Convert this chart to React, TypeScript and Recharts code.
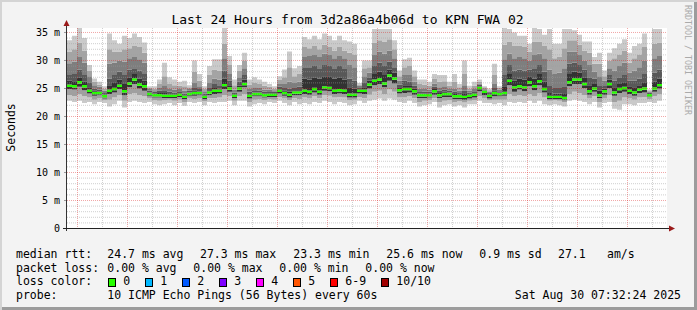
import React from 'react';
import { ComposedChart, Bar, XAxis, YAxis } from 'recharts';

const FONT = '"DejaVu Sans Mono", "Liberation Mono", monospace';

// plot frame (pixels) shared by the chart and the grid overlay
const PLOT_LEFT = 67;
const PLOT_TOP = 28;
const PLOT_W = 600;
const PLOT_H = 200.5;
const Y_MAX = 35.8;

// time axis, minutes after Fri 00:00
const START_MIN = 454.8;
const SPAN_MIN = 1440;
const STEP_COUNT = 120; // 12-minute RRD steps across 24 h

const timeTicks = [480, 720, 960, 1200, 1440, 1680];
const timeTickLabels = ['Fri 08:00', 'Fri 12:00', 'Fri 16:00', 'Fri 20:00', 'Sat 00:00', 'Sat 04:00'];
const majorHourLines = [480, 600, 720, 840, 960, 1080, 1200, 1320, 1440, 1560, 1680, 1800];
const minorHourLines = [540, 660, 780, 900, 1020, 1140, 1260, 1380, 1500, 1620, 1740, 1860];

const yTicks = [0, 5, 10, 15, 20, 25, 30, 35];
const yTickLabels = ['0', '5 m', '10 m', '15 m', '20 m', '25 m', '30 m', '35 m'];
const majorY = [5, 10, 15, 20, 25, 30, 35];
const minorY = [1, 2, 3, 4, 6, 7, 8, 9, 11, 12, 13, 14, 16, 17, 18, 19, 21, 22, 23, 24, 26, 27, 28, 29, 31, 32, 33, 34];

// smoke boundaries (ms), one value per 12-minute step
const lo1 = [
  22.8, 22.6, 22.8, 22.4, 22.6, 22.2, 22.6, 22.4, 21.8, 22.2,
  22.8, 21.6, 22.6, 22.8, 22.6, 22.4, 22.6, 22.2, 22.0, 22.2,
  22.4, 22.0, 22.4, 21.9, 22.6, 22.4, 22.6, 22.0, 22.6, 22.4,
  22.6, 22.6, 22.8, 22.0, 22.8, 22.8, 21.8, 22.2, 22.4, 22.2,
  22.6, 22.4, 22.8, 22.4, 22.0, 22.6, 22.2, 22.4, 22.2, 22.6,
  22.4, 22.8, 22.6, 22.2, 22.6, 22.4, 22.0, 22.2, 22.8, 22.4,
  22.8, 23.0, 23.2, 22.8, 23.2, 23.0, 22.6, 22.4, 22.8, 22.4,
  21.8, 22.0, 22.2, 22.6, 21.6, 22.0, 22.2, 21.8, 22.0, 21.6,
  22.2, 22.2, 22.8, 22.4, 22.4, 22.2, 22.4, 22.0, 22.6, 22.4,
  22.6, 22.4, 22.8, 22.4, 22.8, 22.2, 22.0, 22.2, 22.0, 21.8,
  22.8, 23.0, 22.8, 22.6, 22.2, 22.6, 21.6, 22.4, 22.6, 21.4,
  21.2, 22.2, 22.2, 22.0, 22.4, 22.4, 22.6, 22.4, 22.8,
];
const lo2 = [
  23.8, 23.6, 24.0, 23.6, 23.4, 23.0, 23.2, 22.9, 23.0, 23.4,
  23.8, 22.8, 24.0, 24.2, 23.8, 23.6, 23.2, 22.9, 22.8, 22.9,
  23.0, 22.8, 23.0, 22.6, 23.2, 23.1, 23.2, 22.7, 23.3, 23.3,
  23.4, 23.8, 23.6, 22.8, 23.6, 24.0, 22.6, 23.0, 23.1, 22.9,
  23.1, 23.0, 23.5, 23.2, 22.9, 23.3, 23.1, 23.4, 23.2, 23.6,
  23.3, 23.8, 23.7, 23.4, 23.5, 23.4, 22.9, 23.0, 23.5, 23.3,
  23.9, 24.4, 24.6, 24.0, 24.8, 24.4, 23.4, 23.4, 23.6, 23.3,
  22.6, 22.8, 22.9, 23.3, 22.6, 22.8, 22.9, 22.6, 22.7, 22.5,
  22.8, 22.9, 23.6, 23.2, 22.9, 23.0, 23.0, 23.0, 24.0, 23.6,
  23.8, 23.6, 24.0, 23.6, 24.2, 23.4, 22.8, 22.9, 22.8, 22.6,
  24.0, 24.4, 24.2, 23.8, 23.2, 23.6, 22.6, 23.2, 23.8, 22.6,
  22.8, 23.4, 23.2, 23.0, 23.4, 23.5, 23.1, 23.6, 24.0,
];
const lo3 = [
  24.9, 24.8, 25.3, 24.7, 24.1, 23.7, 23.8, 23.2, 24.0, 24.3,
  24.9, 23.8, 25.2, 25.8, 25.0, 24.6, 23.6, 23.4, 23.4, 23.3,
  23.3, 23.3, 23.5, 23.1, 23.6, 23.7, 23.8, 23.1, 23.8, 24.0,
  24.1, 24.9, 24.4, 23.3, 24.4, 25.2, 23.2, 23.6, 23.6, 23.4,
  23.5, 23.5, 24.1, 23.7, 23.4, 23.8, 23.8, 24.0, 23.9, 24.3,
  23.9, 24.6, 24.5, 24.0, 24.1, 24.0, 23.4, 23.4, 24.1, 24.0,
  25.0, 25.6, 25.8, 25.2, 26.4, 25.9, 24.1, 24.2, 24.3, 23.9,
  23.3, 23.3, 23.4, 23.9, 23.3, 23.5, 23.5, 23.1, 23.1, 23.0,
  23.2, 23.4, 24.5, 23.8, 23.2, 23.6, 23.6, 23.7, 25.6, 24.4,
  24.8, 24.5, 25.4, 24.7, 25.6, 24.3, 23.1, 23.1, 23.1, 22.9,
  25.4, 25.8, 25.8, 25.1, 23.9, 24.4, 23.3, 23.9, 25.1, 23.7,
  24.2, 24.4, 24.0, 23.7, 24.2, 24.3, 23.5, 24.4, 25.0,
];
// median rtt (ms)
const median = [
  25.5, 25.4, 26.1, 25.4, 24.6, 24.2, 24.2, 23.6, 24.6, 24.9,
  25.5, 24.5, 25.9, 26.6, 25.7, 25.4, 24.0, 23.8, 23.8, 23.7,
  23.7, 23.7, 23.9, 23.5, 24.0, 24.2, 24.2, 23.5, 24.3, 24.6,
  24.6, 25.6, 25.0, 23.7, 25.0, 25.8, 23.7, 24.0, 24.0, 23.8,
  23.9, 23.9, 24.6, 24.2, 23.9, 24.3, 24.3, 24.6, 24.4, 24.9,
  24.4, 25.2, 25.1, 24.6, 24.7, 24.6, 23.9, 23.9, 24.6, 24.6,
  25.7, 26.4, 26.6, 25.9, 27.3, 26.8, 24.7, 24.9, 24.9, 24.5,
  23.8, 23.8, 23.8, 24.5, 23.8, 24.0, 24.0, 23.6, 23.6, 23.5,
  23.7, 23.9, 25.1, 24.4, 23.7, 24.2, 24.0, 24.2, 26.4, 25.2,
  25.4, 25.2, 26.1, 25.4, 26.3, 24.9, 23.5, 23.5, 23.5, 23.3,
  26.1, 26.6, 26.6, 25.8, 24.5, 25.0, 23.8, 24.5, 25.8, 24.3,
  24.9, 25.1, 24.6, 24.3, 24.8, 25.0, 23.8, 25.0, 25.6,
];
const hi1 = [
  26.4, 26.3, 27.0, 26.2, 25.2, 24.6, 24.5, 23.9, 25.6, 26.0,
  26.6, 25.8, 27.0, 27.6, 26.8, 26.4, 24.3, 24.1, 24.2, 24.2,
  24.0, 24.0, 24.2, 23.8, 24.3, 24.6, 24.5, 23.8, 24.7, 25.1,
  25.0, 26.8, 25.6, 24.0, 25.5, 26.6, 24.0, 24.3, 24.3, 24.1,
  24.2, 24.2, 24.9, 24.6, 24.4, 24.7, 24.7, 26.8, 26.6, 27.0,
  26.8, 27.2, 27.2, 26.8, 27.0, 26.6, 25.2, 25.0, 24.9, 25.2,
  26.4, 27.6, 28.0, 27.4, 28.4, 27.8, 25.2, 25.6, 25.6, 25.0,
  24.1, 24.1, 24.1, 24.9, 24.2, 24.4, 24.3, 24.0, 23.9, 24.0,
  24.0, 24.2, 25.4, 24.6, 24.0, 24.6, 24.2, 25.4, 27.6, 26.4,
  26.8, 26.6, 27.2, 26.8, 27.6, 26.2, 24.2, 24.1, 24.1, 24.0,
  27.6, 28.0, 27.8, 27.0, 25.6, 25.8, 24.6, 25.0, 26.6, 25.2,
  25.8, 26.0, 25.4, 25.2, 25.6, 26.0, 24.0, 26.2, 26.8,
];
const hi2 = [
  27.4, 27.6, 28.4, 27.4, 26.0, 25.0, 24.8, 24.2, 26.8, 27.4,
  28.0, 27.4, 28.4, 28.6, 28.2, 27.6, 24.6, 24.4, 24.6, 24.7,
  24.4, 24.3, 24.5, 24.1, 24.6, 25.2, 24.9, 24.1, 25.2, 25.8,
  25.6, 28.2, 26.4, 24.3, 26.2, 27.4, 24.4, 24.7, 24.6, 24.4,
  24.5, 24.4, 25.3, 25.1, 25.0, 25.2, 25.3, 28.8, 28.8, 29.0,
  28.6, 29.2, 29.0, 28.6, 29.0, 28.6, 26.8, 26.4, 25.2, 26.0,
  27.0, 29.0, 29.6, 29.0, 29.8, 28.8, 25.7, 26.4, 26.2, 25.5,
  24.5, 24.4, 24.4, 25.3, 24.6, 24.8, 24.6, 24.4, 24.2, 24.6,
  24.3, 24.5, 25.7, 24.8, 24.2, 25.1, 24.5, 27.4, 29.2, 28.2,
  28.4, 28.2, 28.4, 28.6, 29.2, 28.0, 25.6, 25.2, 25.2, 25.4,
  29.4, 29.6, 29.2, 28.4, 27.0, 26.8, 25.6, 25.6, 27.4, 26.4,
  27.0, 27.4, 26.4, 26.4, 26.8, 27.6, 24.2, 27.8, 28.4,
];
const hi3 = [
  29.5, 29.8, 30.6, 29.6, 27.2, 25.6, 25.3, 24.6, 29.4, 29.6,
  30.0, 29.8, 30.4, 30.6, 30.2, 29.6, 24.9, 24.7, 25.1, 25.6,
  24.9, 24.8, 24.9, 24.6, 24.9, 26.0, 25.4, 24.5, 26.0, 26.8,
  26.6, 30.4, 27.6, 24.8, 27.0, 28.6, 24.9, 25.2, 25.1, 24.8,
  24.8, 24.7, 25.8, 25.8, 26.2, 26.0, 26.2, 30.6, 30.8, 31.0,
  30.6, 31.2, 31.0, 30.4, 30.8, 30.4, 29.2, 28.8, 25.5, 27.2,
  27.8, 31.0, 31.6, 31.2, 31.8, 30.4, 26.4, 27.4, 27.4, 26.2,
  25.0, 24.9, 24.8, 25.9, 25.2, 25.4, 24.9, 25.0, 24.6, 25.6,
  24.6, 24.9, 25.9, 25.0, 24.4, 25.8, 24.8, 30.2, 31.2, 30.4,
  30.6, 30.4, 30.0, 31.0, 31.2, 30.4, 28.4, 27.6, 27.8, 28.6,
  31.6, 31.6, 31.0, 30.0, 29.2, 28.0, 27.2, 26.4, 28.6, 28.2,
  29.0, 29.6, 27.8, 28.2, 28.8, 30.0, 24.4, 30.4, 30.8,
];
const hi4 = [
  31.6, 32.0, 33.2, 31.8, 28.2, 26.2, 25.7, 25.0, 32.0, 31.6,
  31.6, 32.0, 32.2, 32.6, 32.4, 31.4, 25.1, 25.0, 25.8, 27.2,
  25.8, 25.6, 25.5, 25.4, 25.2, 28.0, 26.4, 24.9, 27.4, 28.4,
  28.2, 33.0, 29.2, 25.6, 28.2, 30.0, 25.7, 26.0, 25.8, 25.5,
  25.3, 25.0, 26.5, 27.0, 28.8, 27.2, 27.6, 32.4, 32.2, 32.6,
  32.0, 32.8, 32.4, 31.8, 32.4, 31.8, 31.4, 31.0, 25.7, 28.6,
  28.8, 33.2, 33.6, 33.4, 33.8, 32.0, 27.2, 28.8, 29.0, 27.2,
  25.8, 25.7, 25.5, 26.7, 26.2, 26.3, 25.5, 26.2, 25.2, 27.6,
  25.0, 25.5, 26.2, 25.2, 24.7, 27.4, 25.1, 32.8, 33.4, 32.6,
  32.6, 32.4, 31.6, 33.4, 33.4, 32.6, 32.0, 30.4, 30.6, 32.2,
  33.6, 33.6, 32.8, 31.8, 31.4, 29.4, 29.4, 27.2, 30.0, 30.4,
  31.0, 31.8, 29.6, 30.4, 31.0, 32.4, 24.6, 33.0, 33.2,
];
const top = [
  33.6, 34.4, 35.8, 34.0, 29.2, 26.8, 26.2, 25.4, 34.8, 33.6,
  33.0, 34.4, 34.0, 34.8, 34.2, 33.2, 25.4, 25.4, 26.6, 29.6,
  27.0, 26.6, 26.2, 26.4, 25.6, 30.0, 27.6, 25.4, 29.0, 30.2,
  30.2, 35.8, 30.8, 26.6, 29.2, 31.4, 26.6, 27.0, 26.6, 26.2,
  25.8, 25.4, 27.2, 28.4, 31.6, 28.6, 29.0, 34.2, 33.8, 34.4,
  33.8, 34.8, 34.4, 33.6, 34.4, 33.6, 33.4, 33.0, 26.0, 30.0,
  30.0, 35.6, 35.6, 35.6, 35.6, 33.6, 28.2, 30.2, 30.5, 28.2,
  26.6, 26.6, 26.2, 27.6, 27.4, 27.4, 26.2, 27.6, 25.8, 30.0,
  25.5, 26.2, 26.6, 25.4, 25.0, 29.4, 25.4, 35.8, 35.6, 35.0,
  34.4, 34.4, 33.0, 35.8, 35.6, 34.6, 35.6, 33.0, 33.0, 35.6,
  35.6, 35.4, 34.6, 33.4, 33.4, 30.6, 31.4, 28.2, 31.4, 32.2,
  33.0, 33.8, 31.4, 32.6, 33.0, 34.8, 24.8, 35.6, 35.6,
];

const lossLabels = ['0', '1', '2', '3', '4', '5', '6-9', '10/10'];
const lossColors = ['#26ff00', '#00b8ff', '#0059ff', '#7e00ff', '#ff00ff', '#ff5500', '#ff0000', '#a10000'];
const lossBoxX = [108, 145, 182, 219, 256, 293, 330, 381];

const MED_HALF = 0.22;
const pos = (v: number) => Math.max(0, v);

const rows = Array.from({ length: STEP_COUNT }, (_, k) => {
  if (k >= median.length) return { k };
  const m = median[k];
  return {
    k,
    base: lo1[k],
    s1: pos(lo2[k] - lo1[k]),
    s2: pos(lo3[k] - lo2[k]),
    s3: pos(m - MED_HALF - lo3[k]),
    mg: MED_HALF * 2,
    s4: pos(hi1[k] - (m + MED_HALF)),
    s5: pos(hi2[k] - hi1[k]),
    s6: pos(hi3[k] - hi2[k]),
    s7: pos(hi4[k] - hi3[k]),
    s8: pos(top[k] - hi4[k]),
  };
});

const stackLayers: { key: string; fill: string }[] = [
  { key: 'base', fill: 'transparent' },
  { key: 's1', fill: '#cacaca' },
  { key: 's2', fill: '#a0a0a0' },
  { key: 's3', fill: '#323232' },
  { key: 'mg', fill: '#26ff00' },
  { key: 's4', fill: '#323232' },
  { key: 's5', fill: '#585858' },
  { key: 's6', fill: '#7e7e7e' },
  { key: 's7', fill: '#a4a4a4' },
  { key: 's8', fill: '#cacaca' },
];

const fmtTime = (t: number) => {
  const i = timeTicks.indexOf(t);
  return i >= 0 ? timeTickLabels[i] : '';
};
const fmtY = (v: number) => {
  const i = yTicks.indexOf(v);
  return i >= 0 ? yTickLabels[i] : '';
};

// same linear maps as the chart's axes, used only for the grid overlay
const gx = (t: number) => PLOT_LEFT + ((t - START_MIN) / SPAN_MIN) * PLOT_W;
const gy = (v: number) => PLOT_TOP + PLOT_H - (v / Y_MAX) * PLOT_H;

const legendText = { fontFamily: FONT, fontSize: 11.5, fill: '#000' } as const;
const MINOR = { stroke: '#a0a0a0', strokeOpacity: 0.5, strokeDasharray: '1 1', strokeWidth: 1 } as const;
const MAJOR = { stroke: '#dd2222', strokeOpacity: 0.4, strokeDasharray: '1 1', strokeWidth: 1 } as const;

export default function App() {
  return (
    <div
      style={{
        position: 'absolute',
        left: 0,
        top: 0,
        width: 697,
        height: 310,
        background: '#f3f3f3',
        boxShadow: 'inset 2px 2px 0 #d4d4d4, inset -3px -3px 0 #9c9c9c',
        overflow: 'hidden',
      }}
    >
      <div style={{ position: 'absolute', left: PLOT_LEFT, top: PLOT_TOP, width: PLOT_W, height: PLOT_H, background: '#ffffff' }} />
      <div style={{ position: 'absolute', left: 0, top: 0 }}>
        <ComposedChart
          width={697}
          height={310}
          data={rows}
          margin={{ top: PLOT_TOP, right: 697 - PLOT_LEFT - PLOT_W, bottom: 310 - PLOT_TOP - PLOT_H - 30, left: 0 }}
          barCategoryGap={0}
          barGap={0}
        >
          <XAxis dataKey="k" type="category" hide />
          <XAxis
            xAxisId="time"
            type="number"
            domain={[START_MIN, START_MIN + SPAN_MIN]}
            allowDataOverflow
            ticks={timeTicks}
            interval={0}
            tickFormatter={fmtTime}
            height={30}
            axisLine={false}
            tickLine={false}
            tickSize={3}
            tickMargin={3}
            tick={{ fill: '#000', fontSize: 10, fontFamily: FONT }}
          />
          <YAxis
            type="number"
            domain={[0, Y_MAX]}
            allowDataOverflow
            ticks={yTicks}
            interval={0}
            tickFormatter={fmtY}
            width={PLOT_LEFT}
            axisLine={false}
            tickLine={{ stroke: '#999' }}
            tickSize={3}
            tickMargin={4}
            tick={{ fill: '#000', fontSize: 10, fontFamily: FONT }}
          />
          {stackLayers.map((l) => (
            <Bar key={l.key} dataKey={l.key} stackId="smoke" fill={l.fill} isAnimationActive={false} />
          ))}
        </ComposedChart>
      </div>
      <svg width={697} height={310} style={{ position: 'absolute', left: 0, top: 0, pointerEvents: 'none' }}>
        {/* grid on top of the smoke, as rrdtool draws it */}
        {minorY.map((v) => (
          <line key={'my' + v} x1={PLOT_LEFT} x2={PLOT_LEFT + PLOT_W} y1={gy(v)} y2={gy(v)} {...MINOR} />
        ))}
        {minorHourLines.map((t) => (
          <line key={'mx' + t} x1={gx(t)} x2={gx(t)} y1={PLOT_TOP} y2={PLOT_TOP + PLOT_H} {...MINOR} />
        ))}
        {majorY.map((v) => (
          <line key={'My' + v} x1={PLOT_LEFT} x2={PLOT_LEFT + PLOT_W} y1={gy(v)} y2={gy(v)} {...MAJOR} />
        ))}
        {majorHourLines.map((t) => (
          <line key={'Mx' + t} x1={gx(t)} x2={gx(t)} y1={PLOT_TOP} y2={PLOT_TOP + PLOT_H} {...MAJOR} />
        ))}
        {/* axes */}
        <line x1={66.5} y1={231} x2={66.5} y2={24} stroke="#333" strokeWidth={1} />
        <line x1={63} y1={228.5} x2={670} y2={228.5} stroke="#222" strokeWidth={1} />
        <polygon points="66.5,20 63.5,26 69.5,26" fill="#9a1a1a" />
        <polygon points="675,228.5 669,225.5 669,231.5" fill="#9a1a1a" />
        {/* title */}
        <text x={347.5} y={24} textAnchor="middle" fontFamily={FONT} fontSize={13} fill="#000">
          Last 24 Hours from 3d2a86a4b06d to KPN FWA 02
        </text>
        {/* y label */}
        <text
          x={15.3}
          y={127.5}
          textAnchor="middle"
          transform="rotate(-90 15.3 127.5)"
          fontFamily={FONT}
          fontSize={11.5}
          fill="#000"
        >
          Seconds
        </text>
        {/* watermark */}
        <text
          x={685.3}
          y={60}
          textAnchor="middle"
          transform="rotate(90 685.3 60)"
          fontFamily={FONT}
          fontSize={8.3}
          fill="#aaaaaa"
        >
          RRDTOOL / TOBI OETIKER
        </text>
        {/* legend row 1 */}
        <text x={16} y={257.8} {...legendText}>median rtt:</text>
        <text x={107.3} y={257.8} {...legendText}>24.7 ms avg</text>
        <text x={200} y={257.8} {...legendText}>27.3 ms max</text>
        <text x={293.3} y={257.8} {...legendText}>23.3 ms min</text>
        <text x={386.3} y={257.8} {...legendText}>25.6 ms now</text>
        <text x={479.3} y={257.8} {...legendText}>0.9 ms sd</text>
        <text x={558} y={257.8} {...legendText}>27.1</text>
        <text x={607} y={257.8} {...legendText}>am/s</text>
        {/* legend row 2 */}
        <text x={16} y={271.5} {...legendText}>packet loss:</text>
        <text x={107.3} y={271.5} {...legendText}>0.00 % avg</text>
        <text x={193.3} y={271.5} {...legendText}>0.00 % max</text>
        <text x={279.3} y={271.5} {...legendText}>0.00 % min</text>
        <text x={365.3} y={271.5} {...legendText}>0.00 % now</text>
        {/* legend row 3 */}
        <text x={16} y={285.2} {...legendText}>loss color:</text>
        {lossLabels.map((lab, i) => (
          <g key={lab}>
            <rect x={lossBoxX[i] + 0.5} y={278.5} width={7} height={8} fill={lossColors[i]} stroke="#000" strokeWidth={1} />
            <text x={lossBoxX[i] + 15.3} y={285.2} {...legendText}>{lab}</text>
          </g>
        ))}
        {/* legend row 4 */}
        <text x={16} y={299} {...legendText}>probe:</text>
        <text x={107.3} y={299} {...legendText}>10 ICMP Echo Pings (56 Bytes) every 60s</text>
        <text x={681} y={299} textAnchor="end" {...legendText}>Sat Aug 30 07:32:24 2025</text>
      </svg>
    </div>
  );
}
